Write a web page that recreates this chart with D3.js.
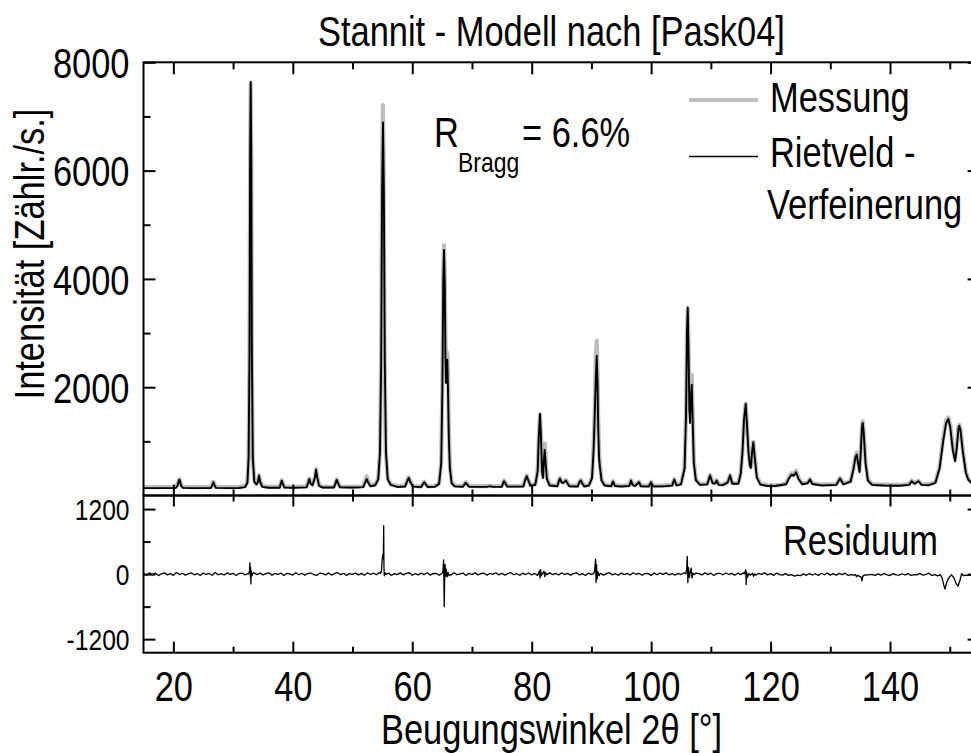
<!DOCTYPE html>
<html>
<head>
<meta charset="utf-8">
<script src="https://cdn.jsdelivr.net/npm/d3@7"></script>
<style>
  html, body { margin: 0; padding: 0; background: #fff; }
  svg { display: block; }
  text { font-family: "Liberation Sans", Arial, sans-serif; fill: #000; }
</style>
</head>
<body>
<svg id="chart" width="971" height="753"></svg>
<script>
// ---- Data: X-ray powder pattern of stannite, 2θ in degrees, intensity in counts/s ----

// Rietveld refinement (calculated pattern)
const rietveld = [
  [15.0,137],[17.0,136],[19.0,137],[20.4,139],[20.7,180],[20.9,270],[21.0,292],[21.1,268],[21.3,180],[21.6,141],
  [23.0,137],[25.0,137],[26.3,139],[26.55,200],[26.7,245],[26.85,200],[27.1,141],
  [29.0,137],[31.0,139],[32.0,155],[32.4,235],[32.6,700],[32.75,2600],[32.85,6200],[32.95,7640],[33.05,6200],[33.15,2600],[33.3,700],[33.55,255],[33.9,205],
  [34.15,245],[34.34,368],[34.55,245],[34.9,160],[36.0,142],[37.8,144],[38.0,225],[38.14,275],[38.3,225],[38.6,146],
  [40.0,144],[42.3,150],[42.6,245],[42.76,305],[42.95,225],[43.3,190],[43.7,330],[43.89,478],[44.1,330],[44.4,178],[45.0,147],
  [46.9,148],[47.2,240],[47.35,288],[47.55,235],[47.9,150],
  [50.0,148],[51.8,155],[52.15,245],[52.37,305],[52.6,240],[53.0,170],[53.8,190],[54.3,295],[54.6,800],[54.8,2500],[54.95,5600],[55.1,6890],[55.25,5600],[55.4,2500],[55.6,800],[55.9,295],[56.4,195],[57.5,158],
  [58.8,165],[59.2,275],[59.41,325],[59.65,255],[60.1,164],
  [61.5,155],[61.85,220],[62.02,245],[62.2,215],[62.6,156],
  [63.8,160],[64.5,215],[64.85,600],[65.05,2000],[65.2,4000],[65.32,4535],[65.45,3900],[65.55,2600],[65.64,2080],[65.76,2400],[65.87,2507],[65.98,2000],[66.12,1100],[66.3,500],[66.6,225],[67.1,168],
  [68.5,162],[68.8,212],[68.95,234],[69.15,208],[69.5,162],
  [72.5,160],[73.0,172],[73.5,160],[75.0,162],[75.25,240],[75.37,264],[75.55,235],[75.9,163],
  [78.6,165],[78.95,300],[79.17,356],[79.4,290],[79.8,178],
  [80.6,198],[81.0,450],[81.2,1100],[81.39,1506],[81.55,1100],[81.75,420],[81.9,320],[82.05,650],[82.18,848],[82.33,600],[82.55,300],[83.0,185],
  [84.3,170],[84.55,270],[84.74,313],[84.95,250],[85.25,228],[85.55,260],[85.75,276],[85.95,232],[86.3,170],
  [87.7,166],[88.0,245],[88.21,276],[88.45,228],[88.8,166],
  [89.6,185],[90.1,320],[90.35,800],[90.55,1450],[90.75,2200],[90.89,2581],[91.02,2100],[91.15,1200],[91.3,663],[91.45,500],[91.7,275],[92.2,185],
  [93.3,170],[93.62,258],[93.95,175],[95.0,166],[96.35,175],[96.63,276],[96.9,196],[97.3,175],[97.97,245],[98.3,170],
  [99.6,167],[99.98,245],[100.35,168],[102.0,168],[103.5,182],[103.88,295],[104.25,188],
  [105.0,205],[105.6,500],[105.85,1500],[106.0,3000],[106.13,3472],[106.26,2700],[106.4,1600],[106.5,1340],[106.65,1800],[106.8,2046],[106.95,1400],[107.15,600],[107.5,278],[108.2,196],
  [109.4,205],[109.86,369],[110.3,226],[110.7,222],[110.98,276],[111.3,196],[112.0,192],[112.8,236],[113.21,369],[113.6,216],
  [114.6,216],[115.0,400],[115.3,800],[115.55,1400],[115.84,1690],[116.05,1300],[116.3,800],[116.55,540],[116.7,510],[116.9,800],[117.11,983],[117.35,700],[117.7,330],[118.3,200],
  [119.5,176],[120.7,175],[122.6,208],[123.1,320],[123.54,387],[123.85,360],[124.26,430],[124.7,300],[125.3,208],[126.2,226],[126.6,295],[127.0,212],[128.5,186],
  [131.0,196],[131.63,313],[132.2,206],[133.4,255],[133.9,500],[134.2,700],[134.42,756],[134.65,600],[134.9,430],[135.1,800],[135.3,1250],[135.43,1340],[135.6,1150],[135.9,600],[136.3,275],[137.0,196],
  [139.0,184],[141.5,180],[143.2,196],[143.63,264],[144.1,215],[144.74,264],[145.3,196],[146.5,190],
  [147.6,235],[148.3,500],[148.9,1000],[149.4,1340],[149.76,1414],[150.1,1250],[150.5,850],[150.9,632],[151.2,900],[151.45,1230],[151.6,1290],[151.8,1200],[152.2,800],[152.7,420],[153.1,295],[153.6,235],[154.5,195],[155.0,190]
];

// Measured pattern
const messung = [
  [15.0,156],[16.0,152],[17.0,158],[18.0,154],[19.0,157],[20.4,160],[20.7,198],[20.9,282],[21.0,302],[21.1,278],[21.3,195],[21.6,160],
  [22.5,154],[23.5,158],[24.5,153],[25.5,157],[26.3,159],[26.55,218],[26.7,252],[26.85,214],[27.1,160],
  [28.0,154],[29.0,157],[30.0,153],[31.0,158],[32.0,172],[32.4,252],[32.6,720],[32.75,2700],[32.85,6300],[32.95,7600],[33.05,6150],[33.15,2500],[33.3,690],[33.55,268],[33.9,218],
  [34.15,258],[34.34,374],[34.55,258],[34.9,178],[35.5,163],[36.5,158],[37.8,163],[38.0,238],[38.14,284],[38.3,238],[38.6,165],
  [39.5,161],[40.5,158],[41.5,163],[42.3,168],[42.6,260],[42.76,314],[42.95,238],[43.3,204],[43.7,340],[43.89,486],[44.1,338],[44.4,194],[45.0,164],[46.0,160],
  [46.9,164],[47.2,253],[47.35,297],[47.55,248],[47.9,166],
  [49.0,161],[50.0,164],[51.0,160],[51.8,172],[52.1,272],[52.37,356],[52.65,262],[53.0,186],[53.8,204],[54.3,312],[54.6,830],[54.8,2700],[54.95,6000],[55.08,7210],[55.2,6300],[55.35,2900],[55.55,850],[55.9,312],[56.4,208],[57.5,174],
  [58.8,182],[59.2,292],[59.41,337],[59.65,270],[60.1,180],
  [61.0,170],[61.5,168],[61.85,232],[62.02,255],[62.2,226],[62.6,168],
  [63.8,175],[64.5,232],[64.85,620],[65.05,2100],[65.2,4200],[65.32,4620],[65.45,4000],[65.55,2900],[65.65,2500],[65.78,2600],[65.87,2636],[65.98,2300],[66.12,1300],[66.3,560],[66.6,244],[67.1,184],
  [68.0,176],[68.5,178],[68.8,226],[68.95,244],[69.15,220],[69.5,175],
  [70.5,172],[71.5,175],[72.5,173],[73.0,183],[73.5,171],[74.3,175],[75.0,177],[75.25,252],[75.37,274],[75.55,244],[75.9,177],
  [77.0,175],[78.0,179],[78.6,180],[78.95,312],[79.17,366],[79.4,300],[79.8,190],
  [80.6,210],[81.0,470],[81.2,1120],[81.39,1500],[81.55,1120],[81.75,450],[81.9,360],[82.05,760],[82.18,958],[82.33,700],[82.55,332],[83.0,200],
  [83.7,186],[84.3,185],[84.55,282],[84.74,324],[84.95,262],[85.25,240],[85.55,270],[85.75,286],[85.95,244],[86.3,185],
  [87.0,181],[87.7,181],[88.0,256],[88.21,286],[88.45,240],[88.8,181],
  [89.6,200],[90.1,342],[90.35,900],[90.55,1550],[90.72,2500],[90.89,2857],[91.02,2300],[91.15,1350],[91.3,760],[91.45,560],[91.7,302],[92.2,200],
  [92.8,186],[93.3,185],[93.62,266],[93.95,190],[95.0,180],[96.35,190],[96.63,286],[96.9,210],[97.3,190],[97.97,254],[98.3,185],
  [99.0,181],[99.6,183],[99.98,254],[100.35,183],[101.0,179],[102.0,181],[103.5,195],[103.88,306],[104.25,200],
  [105.0,220],[105.6,520],[105.85,1550],[106.0,3000],[106.13,3450],[106.26,2750],[106.4,1750],[106.5,1550],[106.65,2000],[106.8,2230],[106.95,1550],[107.15,650],[107.5,298],[108.2,210],
  [108.8,210],[109.4,220],[109.86,380],[110.3,240],[110.7,235],[110.98,286],[111.3,210],[112.0,205],[112.8,250],[113.21,378],[113.6,230],
  [114.6,230],[115.0,420],[115.3,830],[115.55,1420],[115.84,1695],[116.05,1330],[116.3,830],[116.55,560],[116.7,530],[116.9,820],[117.11,990],[117.35,720],[117.7,348],[118.3,216],
  [119.5,191],[120.7,186],[121.6,191],[122.6,224],[123.1,342],[123.54,412],[123.85,388],[124.26,456],[124.7,322],[125.3,222],[126.2,240],[126.6,305],[127.0,226],[128.5,200],
  [129.7,205],[131.0,210],[131.63,324],[132.2,220],[133.4,268],[133.9,512],[134.2,722],[134.42,790],[134.65,632],[134.9,462],[135.1,832],[135.3,1290],[135.43,1370],[135.6,1180],[135.9,628],[136.3,290],[137.0,210],
  [138.0,202],[139.0,200],[140.2,196],[141.5,195],[142.4,200],[143.2,210],[143.63,276],[144.1,230],[144.74,274],[145.3,210],[146.5,205],
  [147.6,252],[148.3,530],[148.9,1060],[149.4,1390],[149.76,1440],[150.1,1300],[150.5,900],[150.9,670],[151.2,950],[151.45,1280],[151.6,1305],[151.8,1230],[152.2,830],[152.7,436],[153.1,306],[153.6,248],[154.5,208],[155.0,203]
];

// Residual (measured minus calculated): background samples every 0.5° from 15°
const residStart = 15;
const residStep = 0.5;
const residNoise = [
  14,-20,25,-10,18,-28,6,22,-15,10,-24,30,-8,16,-19,5,24,-13,10,-26,
  19,-7,12,-22,28,-12,9,-17,22,-5,15,-25,10,20,-14,7,-18,26,-10,17,
  -15,8,24,-20,12,-7,19,-26,14,5,-17,25,-12,15,-22,10,20,-8,-24,17,
  7,-14,22,-18,12,26,-10,15,-25,8,-5,20,-15,14,-20,24,-7,17,-12,28,
  -17,10,19,-23,8,-10,22,-15,12,25,-20,7,-14,17,-8,24,-18,10,15,-22,
  12,-7,20,-17,26,-12,5,19,-25,14,-10,22,-15,8,17,-20,12,-5,24,-14,
  15,-19,10,25,-12,7,-22,17,-8,20,-15,12,-24,19,5,-14,26,-10,15,-17,
  22,-8,14,-20,10,24,-15,8,-25,17,-7,20,-12,15,-19,10,25,-14,7,-22,
  19,-10,14,-17,24,-7,12,-20,15,8,-24,20,-12,17,-5,22,-15,10,-19,14,
  -8,25,-14,12,-20,19,7,-15,22,-10,17,-25,10,15,-12,20,-7,14,-22,17,
  -10,24,-15,8,19,-20,12,-5,22,-14,10,-24,17,-10,-20,8,-24,-10,-38,-20,
  -30,5,-22,10,-17,7,-26,15,-12,20,-19,8,-22,14,-10,17,-25,-8,-20,-30,
  -35,-12,-20,-8,-10,-24,5,-19,12,-15,-26,8,-14,-20,7,-17,10,-24,-8,-15,
  14,-20,-7,17,-25,-10,-32,-17,-35,-40,-50,-40,-35,-40,-50,-40,-25,-17,10,-14,
  -8
];
// Residual detail around the Bragg reflections
const residPeaks = [
  [[32.6,5],[32.75,60],[32.82,210],[32.88,-40],[32.93,120],[32.98,-180],[33.05,60],[33.15,-30],[33.3,10]],
  [[54.7,10],[54.85,60],[54.95,250],[55.05,354],[55.12,280],[55.17,420],[55.22,892],[55.26,150],[55.32,-30],[55.45,25],[55.6,-5]],
  [[65.0,10],[65.15,60],[65.25,264],[65.3,-100],[65.35,-600],[65.42,-150],[65.5,180],[65.58,-40],[65.7,90],[65.85,-50],[66.0,30],[66.2,-30],[66.4,-10]],
  [[81.1,5],[81.3,60],[81.4,-70],[81.5,80],[81.6,-30],[81.8,10],[82.05,50],[82.18,-45],[82.3,30],[82.45,0]],
  [[90.4,10],[90.55,70],[90.7,277],[90.78,-155],[90.86,180],[90.95,-90],[91.1,40],[91.3,-30],[91.45,5]],
  [[105.8,5],[105.95,90],[106.05,325],[106.15,-155],[106.25,120],[106.4,-60],[106.55,40],[106.7,110],[106.85,-70],[107.0,20],[107.2,-10]],
  [[115.6,5],[115.75,50],[115.85,80],[115.92,-190],[116.0,30],[116.15,-60],[116.35,10],[116.6,-20],[117.0,15],[117.15,-40],[117.35,5]],
  [[134.2,-10],[134.4,-50],[134.6,-20],[135.2,-60],[135.3,-124],[135.45,-40],[135.7,-15]],
  [[148.4,-10],[148.7,-60],[149.0,-200],[149.2,-277],[149.5,-150],[149.9,-60],[150.3,-13],[150.7,-70],[151.1,-180],[151.4,-220],[151.7,-120],[152.0,10],[152.3,-30],[152.6,-20]]
];

// Axis settings
const xDomain = [15, 155];
const xMajorTicks = [20, 40, 60, 80, 100, 120, 140];
const xMinorTicks = [30, 50, 70, 90, 110, 130, 150];
const yDomain = [0, 8000];
const yMajorTicks = [2000, 4000, 6000, 8000];
const yMinorTicks = [1000, 3000, 5000, 7000];
const resDomain = [-1450, 1450];
const resMajorTicks = [-1200, 0, 1200];
const resMinorTicks = [-600, 600];

// Texts
const titleText = "Stannit - Modell nach [Pask04]";
const xTitle = "Beugungswinkel 2θ [°]";
const yTitle = "Intensität [Zählr./s.]";
const legendItems = ["Messung", "Rietveld -", "Verfeinerung"];
const rBragg = { main: "R", sub: "Bragg", rest: "= 6.6%" };
const residLabel = "Residuum";

// ---- Layout ----
const SQ = 0.82;               // condensed text width
const L = 143.5, R = 979.6;    // panel left / right
const T = 62.3, M = 495.5, B = 652.7;

const svg = d3.select("#chart");

const x = d3.scaleLinear().domain(xDomain).range([L, R]);
const y = d3.scaleLinear().domain(yDomain).range([M, T]);
const yr = d3.scaleLinear().domain(resDomain).range([B, M]);

// clip paths for both panels
const defs = svg.append("defs");
defs.append("clipPath").attr("id", "clipTop")
  .append("rect").attr("x", L).attr("y", T).attr("width", R - L).attr("height", M - T);
defs.append("clipPath").attr("id", "clipRes")
  .append("rect").attr("x", L).attr("y", M).attr("width", R - L).attr("height", B - M);

// residual series assembled from background samples and the detail around peaks
const residual = residNoise
  .map((v, i) => [residStart + i * residStep, v])
  .filter(([a]) => !residPeaks.some(g => a >= g[0][0] && a <= g[g.length - 1][0]))
  .concat(residPeaks.flat())
  .sort((p, q) => p[0] - q[0]);

// ---- Lines ----
const lineTop = d3.line().x(d => x(d[0])).y(d => y(d[1]));
const lineRes = d3.line().x(d => x(d[0])).y(d => yr(d[1]));

const gTop = svg.append("g").attr("clip-path", "url(#clipTop)");
gTop.append("path").datum(messung)
  .attr("d", lineTop).attr("fill", "none")
  .attr("stroke", "#bdbdbd").attr("stroke-width", 4.2).attr("stroke-linejoin", "round");
gTop.append("path").datum(rietveld)
  .attr("d", lineTop).attr("fill", "none")
  .attr("stroke", "#000").attr("stroke-width", 1.9).attr("stroke-linejoin", "round");

svg.append("g").attr("clip-path", "url(#clipRes)")
  .append("path").datum(residual)
  .attr("d", lineRes).attr("fill", "none")
  .attr("stroke", "#000").attr("stroke-width", 1.3).attr("stroke-linejoin", "round");

// ---- Axes (ticks pointing inward) ----
const plainNum = d => String(d);   // hyphen-minus, as printed on the axis
function styleAxis(g) {
  g.select(".domain").remove();
  g.selectAll(".tick line").attr("stroke", "#000").attr("stroke-width", 2);
}
function ticks(axisFn, scale, values, size, tx, ty) {
  return svg.append("g").attr("transform", `translate(${tx},${ty})`)
    .call(axisFn(scale).tickValues(values).tickSize(-size).tickFormat(""))
    .call(styleAxis);
}

// top panel
ticks(d3.axisTop, x, xMajorTicks, 12, 0, T);
ticks(d3.axisTop, x, xMinorTicks, 7, 0, T);
ticks(d3.axisBottom, x, xMajorTicks, 11, 0, M);
ticks(d3.axisBottom, x, xMinorTicks, 6, 0, M);
ticks(d3.axisRight, y, yMajorTicks, 12, R, 0);
ticks(d3.axisRight, y, yMinorTicks, 7, R, 0);
ticks(d3.axisLeft, y, yMinorTicks, 7, L, 0);
svg.append("g").attr("transform", `translate(${L},0)`)
  .call(d3.axisLeft(y).tickValues(yMajorTicks).tickSize(-12).tickFormat(plainNum))
  .call(styleAxis)
  .call(g => g.selectAll("text")
    .attr("transform", `scale(${SQ},1)`)
    .attr("x", -14 / SQ).attr("dy", "0.36em")
    .style("font-size", "42px").attr("fill", "#000"));

// residual panel
ticks(d3.axisTop, x, xMajorTicks, 11, 0, M);
ticks(d3.axisTop, x, xMinorTicks, 6, 0, M);
ticks(d3.axisRight, yr, resMajorTicks, 12, R, 0);
ticks(d3.axisRight, yr, resMinorTicks, 7, R, 0);
ticks(d3.axisLeft, yr, resMinorTicks, 7, L, 0);
ticks(d3.axisBottom, x, xMinorTicks, 6, 0, B);
svg.append("g").attr("transform", `translate(${L},0)`)
  .call(d3.axisLeft(yr).tickValues(resMajorTicks).tickSize(-12).tickFormat(plainNum))
  .call(styleAxis)
  .call(g => g.selectAll("text")
    .attr("transform", `scale(${SQ},1)`)
    .attr("x", -14 / SQ).attr("dy", "0.36em")
    .style("font-size", "30px").attr("fill", "#000"));
svg.append("g").attr("transform", `translate(0,${B})`)
  .call(d3.axisBottom(x).tickValues(xMajorTicks).tickSize(-11).tickFormat(plainNum))
  .call(styleAxis)
  .call(g => g.selectAll("text")
    .attr("transform", `scale(${SQ},1)`)
    .attr("y", 48).attr("dy", 0)
    .style("font-size", "42px").attr("fill", "#000"));

// frames
[[T, M], [M, B]].forEach(([a, b]) => {
  svg.append("rect").attr("x", L).attr("y", a).attr("width", R - L).attr("height", b - a)
    .attr("fill", "none").attr("stroke", "#000").attr("stroke-width", 2);
});

// ---- Texts ----
function label(tx, ty, str, size, anchor = "start", rot = 0) {
  return svg.append("text")
    .attr("transform", `translate(${tx},${ty}) rotate(${rot}) scale(${SQ},1)`)
    .attr("text-anchor", anchor)
    .style("font-size", size + "px")
    .text(str);
}

label(318, 45.5, titleText, 42);
label(381, 743.5, xTitle, 42);
label(44, 254, yTitle, 42, "middle", -90);
label(783, 555, residLabel, 42);

// R_Bragg annotation
label(434, 146.7, rBragg.main, 42);
label(458, 171.5, rBragg.sub, 28);
label(522, 146.7, rBragg.rest, 42);

// legend
const legendColors = ["#bdbdbd", "#000"];
const legendWidths = [4.2, 1.6];
const legendLineY = [100, 156.5];
legendColors.forEach((c, i) => {
  svg.append("line")
    .attr("x1", 689).attr("x2", 758)
    .attr("y1", legendLineY[i]).attr("y2", legendLineY[i])
    .attr("stroke", c).attr("stroke-width", legendWidths[i]);
});
label(770, 112, legendItems[0], 42);
label(770, 166.5, legendItems[1], 42);
label(767, 218.5, legendItems[2], 42);
</script>
</body>
</html>
